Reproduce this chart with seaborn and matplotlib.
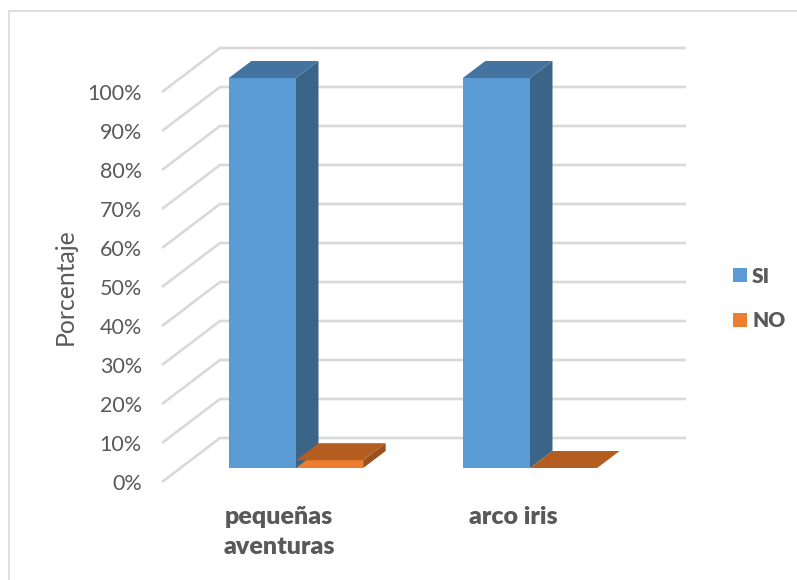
import matplotlib
matplotlib.use("Agg")
import matplotlib.pyplot as plt
import pandas as pd
import seaborn as sns
from matplotlib.lines import Line2D
from matplotlib.patches import Polygon
from matplotlib.transforms import ScaledTranslation

categories = ["pequeñas\naventuras", "arco iris"]
series_names = ["SI", "NO"]
si_values = [100, 100]
no_values = [2, 0]
percent_ticks = [0, 10, 20, 30, 40, 50, 60, 70, 80, 90, 100]

W, H, DPI = 797, 580, 100
FONT = "Lato"
TEXT = "#595959"
GRID = "#d9d9d9"
FRONT = {"SI": "#5b9bd5", "NO": "#ed7d31"}
TOP = {"SI": "#44739f", "NO": "#b55d21"}
SIDE = {"SI": "#3a6488", "NO": "#9a4f1c"}

sns.set_theme(style="white")
plt.rcParams["font.family"] = [FONT, "DejaVu Sans"]

fig = plt.figure(figsize=(W / DPI, H / DPI), dpi=DPI)

# Axes box in pixels: floor front edge to top of back wall
left, right, top, bottom = 162, 686, 48, 481
ax = fig.add_axes([left / W, 1 - bottom / H, (right - left) / W, (bottom - top) / H])

df = pd.DataFrame({
    "categoria": categories * 2,
    "serie": [series_names[0]] * 2 + [series_names[1]] * 2,
    "valor": si_values + no_values,
})
sns.barplot(data=df, x="categoria", y="valor", hue="serie", hue_order=series_names,
            palette=FRONT, saturation=1, width=0.574, gap=0, linewidth=0, ax=ax, zorder=5)

# One category step is 234 px, one percent is 3.9 px on the bar plane
PX_X, PX_Y = 234, 3.9
ax.set_xlim((left - 296) / PX_X, (right - 296) / PX_X)
ax.set_ylim((468 - bottom) / PX_Y, (468 - top) / PX_Y)

wall_x0 = ax.get_xlim()[0]
wall_x1 = wall_x0 + 58 / PX_X
wall_x2 = ax.get_xlim()[1]
front_dy = -14 / PX_Y
back_dy = 30 / PX_Y
for v in percent_ticks:
    ax.plot([wall_x0, wall_x1, wall_x2], [v + front_dy, v + back_dy, v + back_dy],
            color=GRID, lw=1.9, zorder=1, solid_joinstyle="miter", solid_capstyle="butt", clip_on=False)

# Extrude each front face into a top and a side face
dx, dy = 22.5 / PX_X, 17 / PX_Y
for container, name in zip(ax.containers, series_names):
    for bar in container:
        x0, x1 = bar.get_x(), bar.get_x() + bar.get_width()
        h = bar.get_height()
        ax.add_patch(Polygon([(x1, 0), (x1 + dx, dy), (x1 + dx, h + dy), (x1, h)],
                             fc=SIDE[name], ec="none", zorder=5, clip_on=False))
        ax.add_patch(Polygon([(x0, h), (x1, h), (x1 + dx, h + dy), (x0 + dx, h + dy)],
                             fc=TOP[name], ec="none", zorder=5, clip_on=False))

sns.despine(ax=ax, left=True, bottom=True)
ax.set_facecolor("none")
ax.set_xlabel("")
ax.set_ylabel("Porcentaje", fontsize=17.8, color=TEXT, fontfamily=FONT)
ax.yaxis.set_label_coords((77 - left) / (right - left), 0.45)

ax.set_yticks(percent_ticks)
ax.set_yticklabels([f"{v}%" for v in percent_ticks], fontsize=15.5, color=TEXT)
ax.set_xticks(range(len(categories)))
ax.set_xticklabels(categories, fontsize=18, color=TEXT, fontweight=800, linespacing=1.42)
ax.tick_params(axis="y", length=0, pad=14.5)
ax.tick_params(axis="x", length=0, pad=18)

# Labels sit on the front edge of the walls, not on the bar plane
shift_y = ScaledTranslation(0, -14 / DPI, fig.dpi_scale_trans)
for lab in ax.get_yticklabels():
    lab.set_transform(lab.get_transform() + shift_y)
shift_x = ScaledTranslation(-17 / DPI, 0, fig.dpi_scale_trans)
for lab in ax.get_xticklabels():
    lab.set_transform(lab.get_transform() + shift_x)

handles, labels = ax.get_legend_handles_labels()
legend = ax.legend(handles, labels, loc="center left", frameon=False,
                   bbox_to_anchor=(733 / W, 1 - 298.5 / H), bbox_transform=fig.transFigure,
                   handlelength=0.67, handleheight=0.67, handletextpad=0.25,
                   labelspacing=1.23, borderpad=0, borderaxespad=0,
                   prop={"family": FONT, "weight": 800, "size": 15})
for t in legend.get_texts():
    t.set_color(TEXT)

# Chart outline: only the left and top edges
fig.add_artist(Line2D([9 / W, 9 / W, 1], [0, 1 - 10.5 / H, 1 - 10.5 / H],
                      transform=fig.transFigure, color=GRID, lw=1.2, solid_joinstyle="miter"))

fig.savefig("out.png", dpi=DPI, facecolor="white")
